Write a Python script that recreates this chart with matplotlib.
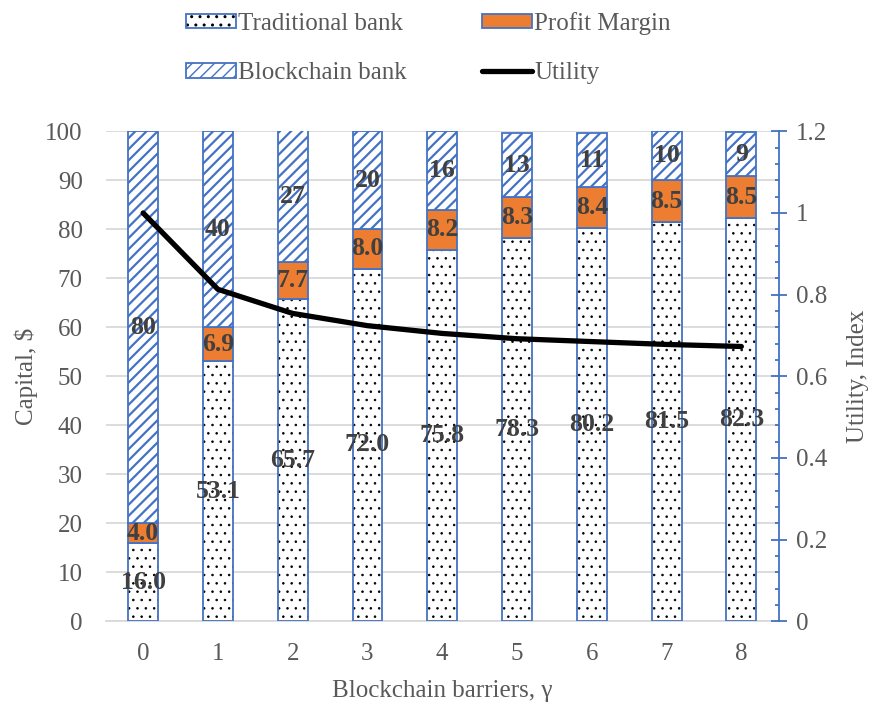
import numpy as np
import matplotlib.pyplot as plt
from matplotlib.patches import Patch
from matplotlib.lines import Line2D
from matplotlib.ticker import MultipleLocator, FixedLocator

plt.rcParams['font.family'] = ['Liberation Serif', 'DejaVu Serif']

# data
gamma = [0, 1, 2, 3, 4, 5, 6, 7, 8]
traditional = [16.0, 53.1, 65.7, 72.0, 75.8, 78.3, 80.2, 81.5, 82.3]
profit = [4.0, 6.9, 7.7, 8.0, 8.2, 8.3, 8.4, 8.5, 8.5]
blockchain = [80, 40, 27, 20, 16, 13, 11, 10, 9]
utility = [1.0, 0.813, 0.754, 0.724, 0.705, 0.692, 0.685, 0.678, 0.673]
capital_ticks = [0, 10, 20, 30, 40, 50, 60, 70, 80, 90, 100]
utility_ticks = [0, 0.2, 0.4, 0.6, 0.8, 1.0, 1.2]

BLUE = '#4472C4'
ORANGE = '#ED7D31'
GRAY = '#595959'
LABEL = '#404040'
GRID = '#D9D9D9'
FS = 18

fig = plt.figure(figsize=(8.74, 7.06), dpi=100)
ax = fig.add_axes([0.121, 0.120, 0.770, 0.694])

x = np.array(gamma)
w = 0.4
trad = np.array(traditional)
prof = np.array(profit)
blk = np.array(blockchain)

# dotted fill for the traditional bank, outline drawn separately in blue
with plt.rc_context({'hatch.linewidth': 0.6}):
    b_trad = ax.bar(x, trad, w, color='white', edgecolor='black', hatch='..',
                    linewidth=0, zorder=2)
    dots_handle = Patch(facecolor='white', edgecolor='black', hatch='..', linewidth=0)
ax.bar(x, trad, w, fill=False, edgecolor=BLUE, linewidth=1.3, zorder=3)
b_prof = ax.bar(x, prof, w, bottom=trad, color=ORANGE, edgecolor=BLUE, linewidth=1.3, zorder=3)
with plt.rc_context({'hatch.linewidth': 1.6}):
    b_blk = ax.bar(x, blk, w, bottom=trad + prof, color='white', edgecolor=BLUE,
                   hatch='///', linewidth=1.3, zorder=3)
    blk_handle = Patch(facecolor='white', edgecolor=BLUE, hatch='///', linewidth=1.3)

lab = dict(label_type='center', color=LABEL, fontsize=18.5, fontweight='bold')
ax.bar_label(b_trad, fmt='{:.1f}', **lab)
ax.bar_label(b_prof, fmt='{:.1f}', **lab)
ax.bar_label(b_blk, fmt='{:.0f}', **lab)

ax.set_xlim(-0.5, 8.5)
ax.set_ylim(0, 100)
ax.set_xticks(x)
ax.set_xticklabels([str(g) for g in gamma])
ax.yaxis.set_major_locator(FixedLocator(capital_ticks))
ax.grid(axis='y', color=GRID, linewidth=1.3, zorder=0)
ax.set_axisbelow(True)
for s in ['left', 'right', 'top']:
    ax.spines[s].set_visible(False)
ax.spines['bottom'].set_color(GRID)
ax.spines['bottom'].set_linewidth(1.3)
ax.tick_params(axis='both', length=0, labelsize=FS, labelcolor=GRAY)
ax.tick_params(axis='y', pad=16.5)
ax.tick_params(axis='x', pad=15.5)
ax.set_ylabel('Capital, $', fontsize=FS, color=GRAY, labelpad=5)
ax.set_xlabel('Blockchain barriers, γ', fontsize=FS, color=GRAY, labelpad=11)

ax2 = ax.twinx()
ax2.plot(x, utility, color='black', linewidth=3.8, solid_capstyle='round',
         solid_joinstyle='round', zorder=5)
ax2.set_ylim(0, 1.2)
ax2.yaxis.set_major_locator(FixedLocator(utility_ticks))
ax2.set_yticklabels(['{:g}'.format(t) for t in utility_ticks])
ax2.yaxis.set_minor_locator(MultipleLocator(0.04))
for s in ['left', 'top', 'bottom']:
    ax2.spines[s].set_visible(False)
ax2.spines['right'].set_color(BLUE)
ax2.spines['right'].set_linewidth(1.3)
ax2.tick_params(axis='y', which='major', direction='inout', length=11, width=1.3,
                color=BLUE, labelsize=FS, labelcolor=GRAY, pad=7)
ax2.tick_params(axis='y', which='minor', direction='in', length=3.2, width=1.3, color=BLUE)
ax2.set_ylabel('Utility, Index', fontsize=FS, color=GRAY, labelpad=14)

h_trad = (dots_handle, Patch(fill=False, edgecolor=BLUE, linewidth=1.3))
h_prof = Patch(facecolor=ORANGE, edgecolor=BLUE, linewidth=1.3)
h_util = Line2D([], [], color='black', linewidth=3.8, solid_capstyle='round')
fig.legend([h_trad, blk_handle, h_prof, h_util],
           ['Traditional bank', 'Blockchain bank', 'Profit Margin', 'Utility'],
           ncol=2, loc='center', bbox_to_anchor=(0.49, 0.932), frameon=False,
           fontsize=FS, labelcolor=GRAY, handlelength=2.0, handleheight=0.5,
           handletextpad=0.1, columnspacing=3.0, labelspacing=1.1)

plt.savefig('out.png', dpi=100)
plt.close()
